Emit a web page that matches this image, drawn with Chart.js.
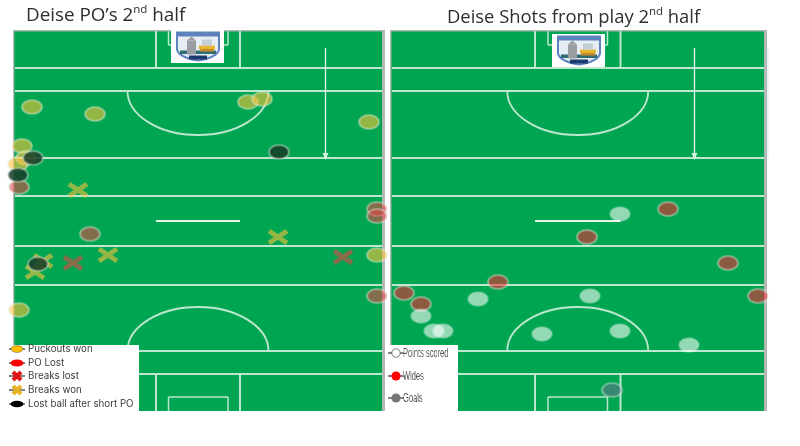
<!DOCTYPE html>
<html><head><meta charset="utf-8">
<script src="https://cdn.jsdelivr.net/npm/chart.js@4"></script>
<style>
html,body{margin:0;padding:0;background:#fff;width:800px;height:446px;overflow:hidden}
#stage{position:relative;width:800px;height:446px;filter:blur(0.55px)}
canvas.pitch{position:absolute;top:20px}
.title{position:absolute;font-family:"Open Sans",sans-serif;color:#2e2e2e;white-space:nowrap;line-height:20px}
.title sup{font-size:11.5px;line-height:0;position:relative;top:-1px;vertical-align:super}
.legendBox{position:absolute;background:#fff;top:345px;height:66px}
.lg{position:absolute;white-space:nowrap;color:#3c3c3c;display:block;line-height:12px}
.lg svg{position:absolute;top:-1px}
</style></head><body>
<div id="stage">
<div class="title" style="left:26px;top:4px;font-size:18.85px">Deise PO’s 2<sup>nd</sup> half</div>
<div class="title" style="left:447px;top:6px;font-size:18.4px">Deise Shots from play 2<sup>nd</sup> half</div>
<canvas class="pitch" id="poChart"></canvas>
<canvas class="pitch" id="shotChart"></canvas>
<div class="legendBox" id="poLegend" style="left:9px;width:130px"></div>
<div class="legendBox" id="shotLegend" style="left:386px;width:72px"></div>
</div>
<script>
// Pitch-unit data: x across the pitch, y down from the top goal line.
const puckoutsWon=[[19,77],[82,84],[235,72],[249,69],[356,92],[9,116],[13,128],[5,134],[364,225],[6,280]];
const poLost=[[364,179],[364,186],[6,157],[77,204],[364,266]];
const breaksLost=[[60,233],[330,227]];
const breaksWon=[[65,160],[265,207],[30,231],[22,242],[95,225]];
const lostShortPO=[[20,128],[266,122],[5,145],[25,234]];
const pointsScored=[[230,184],[88,269],[200,266],[31,286],[44,301],[53,301],[152,304],[230,301],[299,315]];
const wides=[[278,179],[197,207],[338,233],[108,252],[14,263],[31,274],[368,266]];
const goals=[[222,360]];

const poLabels=['Puckouts won','PO Lost','Breaks lost','Breaks won','Lost ball after short PO'];
const shotLabels=['Points scored','Wides','Goals'];

const pitchLengthUnits=381;
const poWidthUnits=372, shotWidthUnits=377;
const crossLines=[38,61,128,166,216,255,321,344];

function toXY(a){return a.map(p=>({x:p[0],y:p[1]}));}
function ellipseMark(fill,edge){
  const c=document.createElement('canvas');c.width=25;c.height=19;
  const g=c.getContext('2d');g.beginPath();g.ellipse(12.5,9.5,10,7,0,0,Math.PI*2);
  g.fillStyle=fill;g.fill();g.lineWidth=1.6;g.strokeStyle=edge;g.stroke();return c;
}
function crossMark(col){
  const c=document.createElement('canvas');c.width=24;c.height=18;
  const g=c.getContext('2d');g.strokeStyle=col;g.lineWidth=5;
  g.beginPath();g.moveTo(3,3);g.lineTo(21,15);g.moveTo(21,3);g.lineTo(3,15);g.stroke();return c;
}
const lineCol='#bde8cf';
const pitchPlugin={id:'pitch',beforeDatasetsDraw(chart,args,o){
  const x=chart.scales.x,y=chart.scales.y,ctx=chart.ctx;
  const X=v=>x.getPixelForValue(v),Y=v=>y.getPixelForValue(v);
  const L=x.left,R=x.right,T=y.top,B=y.bottom;
  ctx.save();
  ctx.fillStyle='#00a551';ctx.fillRect(L,T,R-L,B-T);
  ctx.strokeStyle=lineCol;ctx.lineWidth=2;
  const seg=(a,b,c,d)=>{ctx.beginPath();ctx.moveTo(a,b);ctx.lineTo(c,d);ctx.stroke();};
  crossLines.forEach(v=>seg(L+2,Y(v),R-3,Y(v)));
  const [b0,b1,s0,s1,ax]=o.marks;
  seg(X(b0),T,X(b0),Y(38));seg(X(b1),T,X(b1),Y(38));
  seg(X(b0),Y(344),X(b0),B);seg(X(b1),Y(344),X(b1),B);
  ctx.lineWidth=1.5;
  seg(X(s0),T,X(s0),Y(15));seg(X(s1),T,X(s1),Y(15));seg(X(s0),Y(15),X(s1),Y(15));
  seg(X(s0),Y(367),X(s0),B);seg(X(s1),Y(367),X(s1),B);seg(X(s0),Y(367),X(s1),Y(367));
  ctx.lineWidth=1.8;
  const cx=(b0+b1)/2,rx=X(cx+70.5)-X(cx),ry=Y(44)-Y(0);
  ctx.beginPath();ctx.ellipse(X(cx),Y(61),rx,ry,0,0,Math.PI);ctx.stroke();
  ctx.beginPath();ctx.ellipse(X(cx),Y(321),rx,ry,0,Math.PI,2*Math.PI);ctx.stroke();
  ctx.lineWidth=2.2;ctx.strokeStyle='#e4f5ea';seg(X(b0),Y(191),X(b1),Y(191));
  // direction arrow
  ctx.lineWidth=1.3;ctx.strokeStyle='#e6f7ee';seg(X(ax),Y(18),X(ax),Y(125));
  ctx.fillStyle='#d6f3e2';ctx.beginPath();ctx.moveTo(X(ax)-3,Y(123));ctx.lineTo(X(ax)+3,Y(123));ctx.lineTo(X(ax),Y(130));ctx.closePath();ctx.fill();
  // border
  ctx.fillStyle='#b4b8b5';ctx.fillRect(L,T,R-L,1.4);ctx.fillRect(L,T,1.4,B-T);ctx.fillRect(R-3,T,3,B-T);
  if(o.ghost){ctx.strokeStyle='rgba(195,222,245,.55)';ctx.lineWidth=1.3;seg(R+1,Y(18),R+1,Y(128));}
  // crest
  const cL=X(o.crest[0]),cT=Y(o.crest[1]);
  ctx.fillStyle='#fff';ctx.fillRect(cL,cT,53,33);
  const sx=cL+5,sy=cT+1.5;
  ctx.beginPath();ctx.moveTo(sx,sy);ctx.lineTo(sx+44,sy);ctx.lineTo(sx+44,sy+18);
  ctx.quadraticCurveTo(sx+42,sy+27,sx+22,sy+30);ctx.quadraticCurveTo(sx+2,sy+27,sx,sy+18);ctx.closePath();
  ctx.fillStyle='#5c83bd';ctx.fill();
  ctx.beginPath();ctx.moveTo(sx+2,sy+5);ctx.lineTo(sx+42,sy+5);ctx.lineTo(sx+42,sy+18);
  ctx.quadraticCurveTo(sx+40,sy+25,sx+22,sy+28);ctx.quadraticCurveTo(sx+4,sy+25,sx+2,sy+18);ctx.closePath();
  ctx.fillStyle='#e6edf4';ctx.fill();
  ctx.fillStyle='#2f6d73';ctx.fillRect(sx+4,sy+19,36,3.5);
  ctx.fillStyle='#1d3a6e';ctx.fillRect(sx+13,sy+24,18,4);
  ctx.fillStyle='#9a9ea3';ctx.fillRect(sx+11,sy+9,9,14);
  ctx.beginPath();ctx.moveTo(sx+11,sy+9);ctx.lineTo(sx+15.5,sy+5);ctx.lineTo(sx+20,sy+9);ctx.fill();
  ctx.fillStyle='#e5b62f';ctx.fillRect(sx+23,sy+14,16,3.5);
  ctx.fillStyle='#c98a2a';ctx.fillRect(sx+24,sy+17.5,14,2.5);
  ctx.fillStyle='#c3ced6';ctx.fillRect(sx+26,sy+8,10,6);
  ctx.restore();
}};
function makeChart(id,left,w,padL,padR,widthUnits,sets,marks,crest,ghost){
  const cv=document.getElementById(id);
  cv.style.left=left+'px';cv.style.width=w+'px';cv.style.height='400px';
  return new Chart(cv,{type:'scatter',
    data:{datasets:sets.map(s=>({label:s.label,data:toXY(s.data),pointStyle:s.mark,pointRadius:8,clip:false}))},
    options:{responsive:false,animation:false,devicePixelRatio:1,
      layout:{autoPadding:false,padding:{left:padL,right:padR,top:10,bottom:9}},
      events:[],
      scales:{x:{type:'linear',display:false,min:0,max:widthUnits},
              y:{type:'linear',display:false,reverse:true,min:0,max:pitchLengthUnits}},
      plugins:{legend:{display:false},tooltip:{enabled:false},title:{display:false},pitch:{marks,crest,ghost}}},
    plugins:[pitchPlugin]});
}
['poChart','shotChart'].forEach(i=>{const c=document.getElementById(i);c.width=395;c.height=400;});
const edge='rgba(225,240,225,.55)';
const M={won:ellipseMark('rgba(255,195,60,.58)',edge),lost:ellipseMark('rgba(225,70,70,.58)',edge),
  short:ellipseMark('rgba(25,60,40,.85)',edge),bl:crossMark('rgba(225,70,70,.58)'),bw:crossMark('rgba(255,195,60,.58)'),
  pts:ellipseMark('rgba(255,255,255,.58)','rgba(255,255,255,.2)'),wide:ellipseMark('rgba(255,30,50,.55)',edge),goal:ellipseMark('rgba(110,110,150,.5)',edge)};
makeChart('poChart',0,395,13,10,poWidthUnits,[
 {label:poLabels[4],data:lostShortPO,mark:M.short},
 {label:poLabels[1],data:poLost,mark:M.lost},
 {label:poLabels[0],data:puckoutsWon,mark:M.won},
 {label:poLabels[2],data:breaksLost,mark:M.bl},
 {label:poLabels[3],data:breaksWon,mark:M.bw}],[143,227,155.5,215,312.5],[158,0],false);
makeChart('shotChart',385,395,5,13,shotWidthUnits,[
 {label:shotLabels[0],data:pointsScored,mark:M.pts},
 {label:shotLabels[1],data:wides,mark:M.wide},
 {label:shotLabels[2],data:goals,mark:M.goal}],[145,230.5,158,217.5,304.5],[162,4],true);
// legends
const icon={
 dotY:'<ellipse cx="8" cy="7" rx="6" ry="3.4" fill="#ffc000" stroke="#555" stroke-width=".5"/>',
 dotR:'<ellipse cx="8" cy="7" rx="6.5" ry="3.6" fill="#f00"/>',
 xR:'<path d="M4 3 L12 11 M12 3 L4 11" stroke="#e01515" stroke-width="4"/>',
 xY:'<path d="M4 3 L12 11 M12 3 L4 11" stroke="#e6b422" stroke-width="4"/>',
 dotK:'<ellipse cx="8" cy="7" rx="6.5" ry="3.3" fill="#000"/>',
 circW:'<circle cx="8" cy="7" r="4.2" fill="#fff" stroke="#777" stroke-width="1"/>',
 circR:'<circle cx="8" cy="7" r="4.6" fill="#f00"/>',
 circG:'<circle cx="8" cy="7" r="4.6" fill="#777"/>'};
function legendRow(host,label,ic,top,style,iconLeft,textLeft){
  const r=document.createElement('div');r.className='lg';
  r.style.cssText=`left:0;top:${top}px;height:12px;${style}`;
  const stub=`<path d="M0 7 H16" stroke="#333" stroke-width="1.2"/>`;
  r.innerHTML=`<svg width="16" height="14" style="left:${iconLeft}px">${stub}${ic}</svg><span style="position:absolute;left:${textLeft}px;display:inline-block;transform-origin:0 50%"></span>`;
  const sp=r.querySelector('span');sp.textContent=label;
  host.appendChild(r);return sp;
}
const poH=document.getElementById('poLegend'),shH=document.getElementById('shotLegend');
const poStyle='font-family:Inter,sans-serif;font-size:9.75px;';
[[0,'dotY',-2],[1,'dotR',11.5],[2,'xR',25],[3,'xY',39],[4,'dotK',52.5]].forEach(a=>legendRow(poH,poLabels[a[0]],icon[a[1]],a[2],poStyle,0,19));
const shStyle='font-family:"Liberation Sans",sans-serif;font-size:12.5px;';
[[0,'circW',2],[1,'circR',25],[2,'circG',46.5]].forEach(a=>{const s=legendRow(shH,shotLabels[a[0]],icon[a[1]],a[2],shStyle,2,17);s.style.transform='scaleX(.6)';s.style.willChange='transform';s.style.color='#555';});
</script>
</body></html>
